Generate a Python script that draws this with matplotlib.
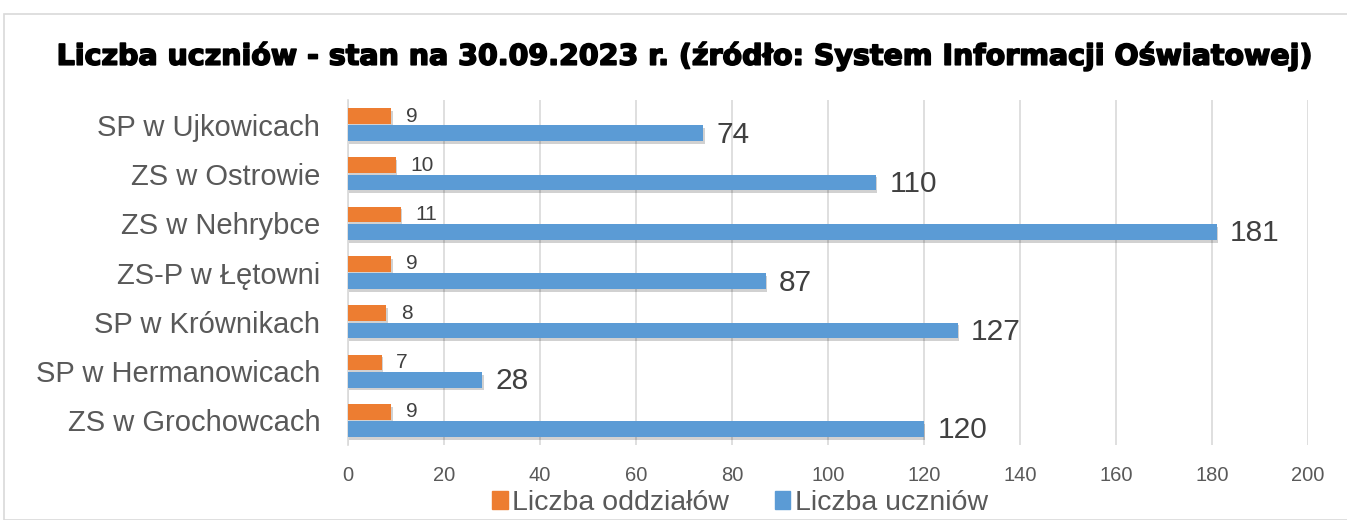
import numpy as np
import matplotlib.pyplot as plt
import matplotlib.patheffects as pe
from matplotlib.patches import Rectangle, Patch

# data (bottom to top, as drawn)
schools = ["ZS w Grochowcach", "SP w Hermanowicach", "SP w Krównikach",
           "ZS-P w Łętowni", "ZS w Nehrybce", "ZS w Ostrowie", "SP w Ujkowicach"]
oddzialy = [9, 7, 8, 9, 11, 10, 9]
uczniowie = [120, 28, 127, 87, 181, 110, 74]
xticks = [0, 20, 40, 60, 80, 100, 120, 140, 160, 180, 200]

orange = "#ED7D31"
blue = "#5B9BD5"

plt.rcParams['font.family'] = ['Liberation Sans', 'DejaVu Sans']

fig = plt.figure(figsize=(13.47, 5.2), dpi=100)
W, H = 1347, 520

# outer chart border
fig.patches.append(Rectangle((4 / W, 0), 1.2, 1 - 14 / H, transform=fig.transFigure,
                             fill=False, edgecolor="#D9D9D9", linewidth=1.2))

ax = fig.add_axes([348 / W, 1 - 445 / H, (1308 - 348) / W, (445 - 100) / H])

y = np.arange(len(schools))
h = 0.32
off = 0.175
shadow = [pe.SimplePatchShadow(offset=(1, -2), shadow_rgbFace="#000000", alpha=0.18), pe.Normal()]

b1 = ax.barh(y + off, oddzialy, height=h, color=orange, zorder=3)
b2 = ax.barh(y - off, uczniowie, height=h, color=blue, zorder=3)
for b in list(b1) + list(b2):
    b.set_path_effects(shadow)

for yi, v in zip(y, oddzialy):
    ax.text(v + 3.0, yi + off, str(v), va="center", ha="left", fontsize=15, color="#404040")
for yi, v in zip(y, uczniowie):
    ax.text(v + 2.8, yi - off - 0.03, str(v), va="center", ha="left", fontsize=21.5, color="#404040")

ax.set_xlim(0, 200)
ax.set_ylim(-0.5, len(schools) - 0.5)
ax.set_xticks(xticks)
ax.set_xticklabels([str(t) for t in xticks], fontsize=14.5, color="#595959")
ax.set_yticks(y)
ax.set_yticklabels(schools, fontsize=21, color="#595959")
ax.tick_params(axis="both", length=0)
ax.tick_params(axis="x", pad=15)
ax.tick_params(axis="y", pad=20)
ax.grid(axis="x", color="#D9D9D9", linewidth=1.2, zorder=0)
for s in ["top", "right", "bottom"]:
    ax.spines[s].set_visible(False)
ax.spines["left"].set_color("#D9D9D9")
ax.spines["left"].set_linewidth(1.2)

fig.text(0.5 * (60 + 1310) / W, 1 - 56 / H,
         "Liczba uczniów - stan na 30.09.2023 r. (źródło: System Informacji Oświatowej)",
         ha="center", va="center", fontsize=20.5, fontweight="heavy", color="black",
         family="DejaVu Sans",
         path_effects=[pe.withStroke(linewidth=1.2, foreground="black")])

handles = [Patch(color=orange), Patch(color=blue)]
fig.legend(handles, ["Liczba oddziałów", "Liczba uczniów"], loc="center",
           bbox_to_anchor=(740 / W, 1 - 503 / H), ncol=2, frameon=False,
           fontsize=20.5, handlelength=0.55, handleheight=0.55, handletextpad=0.15,
           columnspacing=1.6, labelcolor="#595959", borderpad=0)

fig.savefig("out.png", dpi=100)
